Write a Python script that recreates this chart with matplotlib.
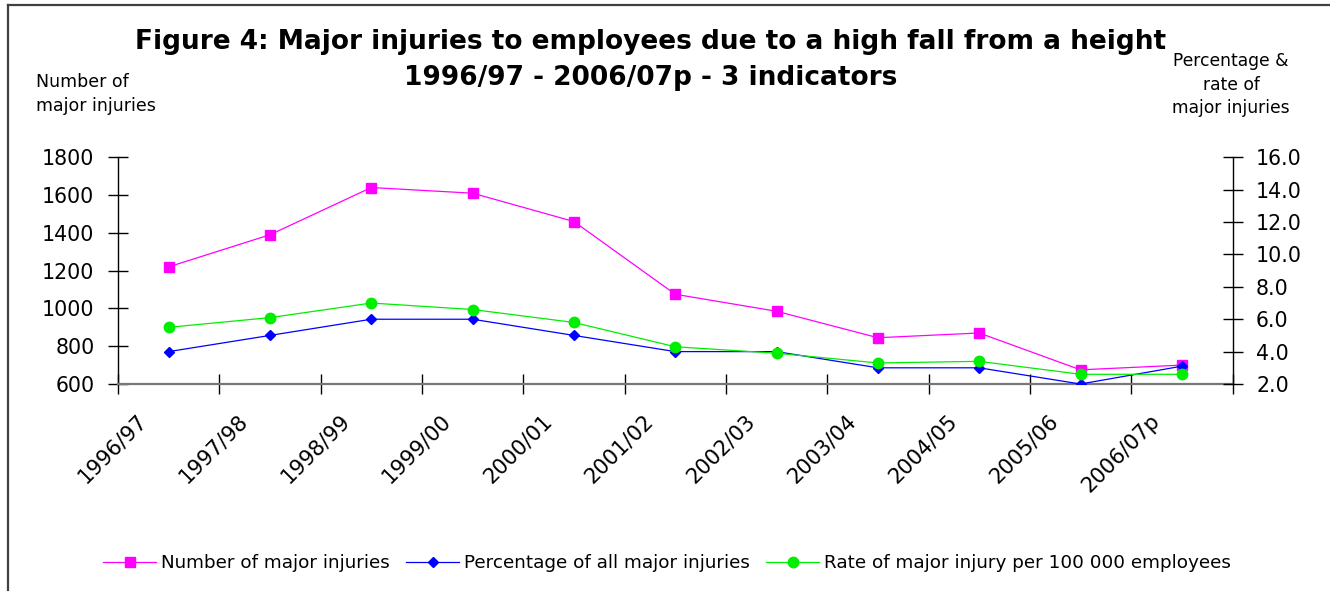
import matplotlib
matplotlib.use("Agg")
import matplotlib.pyplot as plt
from matplotlib.lines import Line2D
from matplotlib.transforms import ScaledTranslation
import numpy as np

years = ["1996/97", "1997/98", "1998/99", "1999/00", "2000/01", "2001/02",
         "2002/03", "2003/04", "2004/05", "2005/06", "2006/07p"]
number_injuries = [1220, 1390, 1640, 1610, 1460, 1075, 985, 845, 870, 675, 700]
pct_all_injuries = [4.0, 5.0, 6.0, 6.0, 5.0, 4.0, 4.0, 3.0, 3.0, 2.0, 3.1]
rate_per_100k = [5.5, 6.1, 7.0, 6.6, 5.8, 4.3, 3.9, 3.3, 3.4, 2.6, 2.6]
left_ticks = [600, 800, 1000, 1200, 1400, 1600, 1800]
right_ticks = [2.0, 4.0, 6.0, 8.0, 10.0, 12.0, 14.0, 16.0]

plt.rcParams['font.family'] = ['DejaVu Sans']

W, H = 1330, 591
fig = plt.figure(figsize=(W / 100, H / 100), dpi=100)
ax = fig.add_axes([118 / W, 1 - 384 / H, (1232.5 - 118) / W, (384 - 157.3) / H])
ax2 = ax.twinx()

x = np.arange(len(years))
l1, = ax.plot(x, number_injuries, color='#FF00FF', marker='s', markersize=7, lw=0.9)
l2, = ax2.plot(x, pct_all_injuries, color='#0000FF', marker='D', markersize=5.5, lw=0.9)
l3, = ax2.plot(x, rate_per_100k, color='#00EE00', marker='o', markersize=7.5, lw=0.9)

ax.set_xlim(-0.5, len(years) - 0.5)
ax.set_ylim(600, 1800)
ax2.set_ylim(2, 16)
ax.set_yticks(left_ticks)
ax.set_yticklabels([str(v) for v in left_ticks])
ax2.set_yticks(right_ticks)
ax2.set_yticklabels(["%.1f" % v for v in right_ticks])

ax.set_xticks(x)
ax.set_xticklabels(years, rotation=45, ha='right', va='top')
ax.set_xticks(np.arange(-0.5, len(years), 1.0), minor=True)
ax.tick_params(axis='x', which='major', length=0, pad=19, labelsize=15.2)
ax.tick_params(axis='x', which='minor', direction='inout', length=14, width=1, color='black')
ax.tick_params(axis='y', direction='inout', length=14, width=1, pad=10, labelsize=14.8)
ax2.tick_params(axis='y', direction='inout', length=14, width=1, pad=10, labelsize=14.8)
shift = ScaledTranslation(-18 / 100, 0, fig.dpi_scale_trans)
for lab in ax.get_xticklabels():
    lab.set_transform(lab.get_transform() + shift)

for a in (ax, ax2):
    a.spines['top'].set_visible(False)
    a.patch.set_visible(False)
ax.spines['bottom'].set_color('#777777')
ax.spines['bottom'].set_linewidth(1.6)
ax2.spines['bottom'].set_visible(False)
ax.spines['right'].set_visible(False)
ax2.spines['left'].set_visible(False)
ax.spines['left'].set_linewidth(1.0)
ax2.spines['right'].set_linewidth(1.0)

fig.text(651 / W, 1 - 60 / H, "Figure 4: Major injuries to employees due to a high fall from a height\n1996/97 - 2006/07p - 3 indicators",
         ha='center', va='center', fontsize=19, fontweight='bold', linespacing=1.5)

fig.text(36 / W, 1 - 73 / H, "Number of\nmajor injuries", ha='left', va='top',
         fontsize=12.5, linespacing=1.45)
fig.text(1231 / W, 1 - 52 / H, "Percentage &\nrate of\nmajor injuries", ha='center', va='top',
         fontsize=12.3, linespacing=1.4)

fig.legend([l1, l2, l3],
           ["Number of major injuries", "Percentage of all major injuries",
            "Rate of major injury per 100 000 employees"],
           loc='center', bbox_to_anchor=(667 / W, 1 - 563 / H), ncol=3, frameon=False,
           fontsize=13.2, handlelength=2.9, handletextpad=0.25, columnspacing=0.9,
           borderaxespad=0)

# chart border (top and left edges visible)
fig.add_artist(Line2D([8 / W, 8 / W], [0, 1 - 5 / H], transform=fig.transFigure,
                      color='#404040', lw=1.6))
fig.add_artist(Line2D([8 / W, 1], [1 - 5 / H, 1 - 5 / H], transform=fig.transFigure,
                      color='#404040', lw=1.6))

fig.savefig("out.png", dpi=100)
